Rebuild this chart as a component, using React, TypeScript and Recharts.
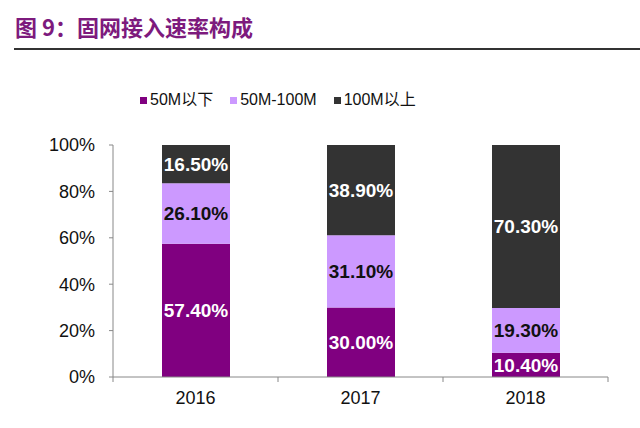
import { BarChart, Bar, XAxis, YAxis, LabelList } from "recharts";

const years = ["2016", "2017", "2018"];
const below50 = [57.4, 30.0, 10.4];
const mid50to100 = [26.1, 31.1, 19.3];
const above100 = [16.5, 38.9, 70.3];
const yTicks = [0, 20, 40, 60, 80, 100];

const series = [
  { key: "below50", name: "50M以下", color: "#800080", label: "#ffffff" },
  { key: "mid", name: "50M-100M", color: "#cc99ff", label: "#111111" },
  { key: "above100", name: "100M以上", color: "#333333", label: "#ffffff" },
];

const data = years.map((year, i) => ({
  year,
  below50: below50[i],
  mid: mid50to100[i],
  above100: above100[i],
}));

const font = '"Liberation Sans", Arial, "Noto Sans CJK SC", sans-serif';

function YearTick(props: any) {
  const { x, y, payload, index, width, visibleTicksCount } = props;
  const band = (width || 495) / (visibleTicksCount || 3);
  const axisY = y - 8;
  return (
    <g>
      {index === 0 && (
        <line x1={x - band / 2} x2={x - band / 2} y1={axisY} y2={axisY + 5} stroke="#888" />
      )}
      <line x1={x + band / 2} x2={x + band / 2} y1={axisY} y2={axisY + 5} stroke="#888" />
      <text x={x} y={y} dy={19} textAnchor="middle" fontSize={18} fill="#111" fontFamily={font}>
        {payload.value}
      </text>
    </g>
  );
}

export default function App() {
  return (
    <div style={{ position: "absolute", left: 0, top: 0, width: 640, height: 428, background: "#fff", fontFamily: font }}>
      <div
        style={{
          position: "absolute",
          left: 15,
          top: 12,
          fontSize: 22,
          fontWeight: "bold",
          color: "#7d1a7d",
          fontFamily: '"Noto Sans CJK SC", sans-serif',
          lineHeight: "28px",
        }}
      >
        图 9：固网接入速率构成
      </div>
      <div style={{ position: "absolute", left: 14, top: 48, width: 626, height: 2, background: "#333" }} />
      <div
        style={{
          position: "absolute",
          top: 90,
          left: 140,
          display: "flex",
          alignItems: "center",
          fontSize: 16,
          color: "#111",
          lineHeight: "20px",
        }}
      >
        {series.map((s) => (
          <div key={s.key} style={{ display: "flex", alignItems: "center", marginRight: 17 }}>
            <span style={{ display: "inline-block", width: 7, height: 7, background: s.color, marginRight: 3 }} />
            <span>{s.name}</span>
          </div>
        ))}
      </div>
      <BarChart
        width={640}
        height={428}
        data={data}
        margin={{ top: 145, right: 32, bottom: 21, left: 53 }}
        style={{ position: "absolute", left: 0, top: 0 }}
      >
        <XAxis
          dataKey="year"
          axisLine={{ stroke: "#888" }}
          tickLine={false}
          tick={<YearTick />}
          height={30}
          interval={0}
        />
        <YAxis
          width={60}
          domain={[0, 100]}
          ticks={yTicks}
          tickFormatter={(v: number) => `${v}%`}
          axisLine={{ stroke: "#888" }}
          tickLine={{ stroke: "#888" }}
          tickSize={4}
          tickMargin={14}
          tick={{ fontSize: 18, fill: "#111", fontFamily: font }}
        />
        {series.map((s) => (
          <Bar key={s.key} dataKey={s.key} name={s.name} stackId="a" fill={s.color} barSize={68} isAnimationActive={false}>
            <LabelList
              dataKey={s.key}
              position="center"
              formatter={(v: any) => `${Number(v).toFixed(2)}%`}
              fill={s.label}
              fontSize={19}
              fontWeight="bold"
              fontFamily={font}
            />
          </Bar>
        ))}
      </BarChart>
    </div>
  );
}
